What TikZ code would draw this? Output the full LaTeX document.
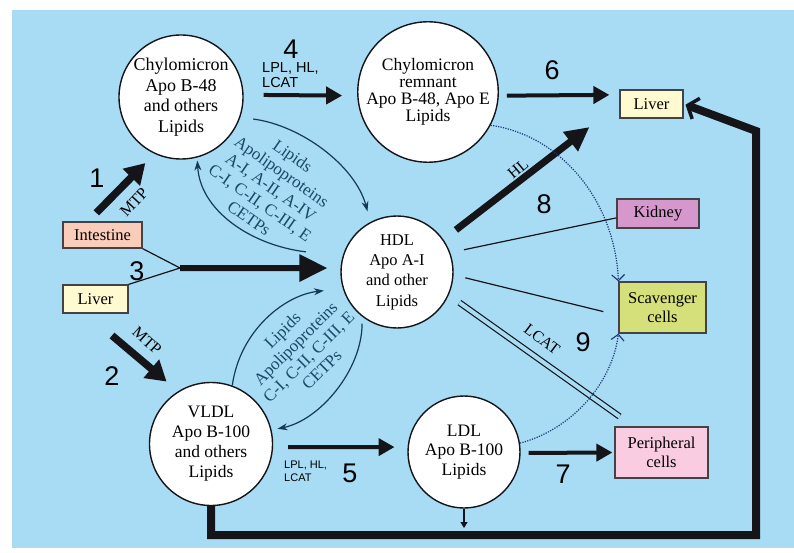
\documentclass[tikz,border=0pt]{standalone}
\usepackage{fontspec}
\setmainfont{Liberation Serif}
\newfontfamily\serifmain{Liberation Serif}
\newfontfamily\sansnum{Liberation Sans}
\usetikzlibrary{arrows.meta,calc}
\definecolor{bgblue}{RGB}{168,220,245}
\definecolor{intestinefill}{RGB}{249,205,186}
\definecolor{liverfill}{RGB}{255,250,208}
\definecolor{kidneyfill}{RGB}{214,152,204}
\definecolor{scavfill}{RGB}{214,224,122}
\definecolor{periphfill}{RGB}{249,204,226}
\definecolor{xtext}{RGB}{28,72,104}
\definecolor{dotcol}{RGB}{30,55,115}
\definecolor{ink}{RGB}{20,20,25}
\begin{document}
\begin{tikzpicture}[x=1pt,y=-1pt,
  circ/.style={circle, draw=ink, line width=1.4pt, fill=white, inner sep=0pt, align=center,
    font=\serifmain\fontsize{18}{20.5}\selectfont},
  box/.style={draw=ink!80, line width=1.2pt, inner sep=0pt, align=center,
    font=\serifmain\fontsize{16.5}{19}\selectfont},
  num/.style={font=\sansnum\fontsize{27}{27}\selectfont, inner sep=0pt},
  enz/.style={font=\sansnum\fontsize{14.5}{15}\selectfont, align=left, inner sep=0pt},
  rlbl/.style={font=\serifmain\fontsize{16}{18}\selectfont, inner sep=0pt},
  xlbl/.style={text=xtext, align=center, inner sep=0pt},
  fatarrow/.style={draw=ink, line width=7.5pt, -{Triangle[length=20pt,width=23pt]}},
  bigarrow/.style={draw=ink, line width=6pt, -{Triangle[length=28pt,width=26pt]}},
  hlarrow/.style={draw=ink, line width=7pt, -{Triangle[length=24pt,width=23pt]}},
  midarrow/.style={draw=ink, line width=4pt, -{Triangle[length=16pt,width=17pt]}},
  thinline/.style={draw=ink, line width=1.2pt},
  xchg/.style={draw=xtext!80!black, line width=1.2pt, -{Stealth[length=10pt,width=7pt]}},
  dotarc/.style={draw=dotcol, line width=1.2pt, dash pattern=on 1.2pt off 1.3pt,
    -{Straight Barb[length=6pt,width=13pt,line width=1.1pt]}},
  loopline/.style={draw=ink, line width=8pt, line join=miter,
    -{Straight Barb[length=9pt,width=22pt,line width=3.5pt]}}
]
\useasboundingbox (0,0) rectangle (794,553);
\fill[white] (0,0) rectangle (794,553);
\fill[bgblue] (12,10) rectangle (794,548);

% circles
\node[circ, minimum size=124pt] (chylo) at (181,97) {Chylomicron\\Apo B-48\\and others\\Lipids};
\node[circ, minimum size=138pt, font=\serifmain\fontsize{17.5}{17}\selectfont] (remnant) at (428,92) {Chylomicron\\remnant\\Apo B-48, Apo E\\Lipids};
\node[circ, minimum size=112pt, font=\serifmain\fontsize{16.5}{20.3}\selectfont] (hdl) at (397,272) {HDL\\Apo A-I\\and other\\Lipids};
\node[circ, minimum size=123pt, font=\serifmain\fontsize{17.5}{20}\selectfont] (vldl) at (211,444) {VLDL\\Apo B-100\\and others\\Lipids};
\node[circ, minimum size=112pt, font=\serifmain\fontsize{17.5}{19.5}\selectfont] (ldl) at (464,452) {LDL\\Apo B-100\\Lipids};

% boxes
\node[box, fill=intestinefill, minimum width=79pt, minimum height=26pt] (intestine) at (102.5,235) {Intestine};
\node[box, fill=liverfill, minimum width=65pt, minimum height=28pt] (liverL) at (95.5,299) {Liver};
\node[box, fill=liverfill, minimum width=63pt, minimum height=28pt] (liverR) at (651.5,104) {Liver};
\node[box, fill=kidneyfill, minimum width=82pt, minimum height=29pt] (kidney) at (658,213.5) {Kidney};
\node[box, fill=scavfill, minimum width=87pt, minimum height=51pt] (scav) at (662.5,307.5) {Scavenger\\cells};
\node[box, fill=periphfill, minimum width=93pt, minimum height=51pt] (periph) at (661.5,452.5) {Peripheral\\cells};

% coordinates
\coordinate (j3) at (180,268);
\coordinate (lb) at (211,535);
\coordinate (lc) at (756,131);
\coordinate (ldlout) at (464,528);

% arrow 1 and 2
\draw[fatarrow, shorten <=12pt, shorten >=13pt] (intestine.137) -- (chylo.245);
\draw[fatarrow, shorten <=34pt, shorten >=15pt] (liverL.237) -- (vldl.122);

% arrow 3
\draw[thinline] (intestine.south east) -- (j3);
\draw[thinline] (liverL.north east) -- (j3);
\draw[bigarrow, shorten >=13pt] (j3) -- (hdl.176);

% arrows 4,5,6,7
\draw[midarrow, shorten <=20pt, shorten >=15pt] (chylo.2) -- (remnant.183);
\draw[midarrow, shorten <=15pt, shorten >=13pt] (vldl.-3) -- (ldl.175);
\draw[midarrow, shorten <=8pt, shorten >=10pt] (remnant.-3) -- (liverR.164);
\draw[midarrow, shorten <=8pt, shorten >=2pt] (ldl.-1) -- (periph.west);

% HL arrow
\draw[hlarrow, shorten <=15.7pt, shorten >=37.8pt] (hdl.35.5) -- (liverR.west);

% thin lines from HDL
\draw[thinline, shorten <=14pt] (hdl.20.7) -- (kidney.186);
\draw[thinline, shorten <=12pt, shorten >=15.5pt] (hdl.-3.4) -- (scav.190.9);
\draw[line width=1.2pt, draw=ink, double=bgblue, double distance=4pt, shorten <=13pt, shorten >=17pt] (hdl.-24) -- (periph.137.5);

% dotted arcs
\draw[dotarc] (remnant.-28) .. controls (560,135) and (615,200) .. (scav.north west);
\draw[dotarc] (ldl.9) .. controls (570,430) and (612,385) .. (scav.south west);

% exchange curves
\draw[xchg, shorten <=13pt, shorten >=11pt] (chylo.-19) .. controls (300,125) and (355,165) .. (hdl.118.5);
\draw[xchg, shorten <=37pt, shorten >=3pt] (hdl.164.5) .. controls (250,245) and (200,210) .. (chylo.-75.7);
\draw[xchg, shorten >=19pt] (vldl.70.4) .. controls (240,330) and (285,295) .. (hdl.197.7);
\draw[xchg, shorten <=7pt, shorten >=6pt] (hdl.232) .. controls (362,370) and (320,420) .. (vldl.13.6);

% big loop
\draw[loopline, shorten >=2pt] (vldl.south) -- (lb) -| (lc) -- (liverR.east);

% LDL small arrow
\draw[draw=ink, line width=1.2pt, -{Triangle[length=6pt,width=7pt]}] (ldl.south) -- (ldlout);

% numbers
\node[num] (n1) at (97,178) {1};
\node[num] (n2) at (112,376) {2};
\node[num] (n3) at (137,271) {3};
\node[num] (n4) at (291,49) {4};
\node[num] (n5) at (350,473) {5};
\node[num] (n6) at (552,70) {6};
\node[num] (n7) at (563,474) {7};
\node[num] (n8) at (544,204) {8};
\node[num] (n9) at (583,342) {9};

% enzyme labels
\node[enz, anchor=west] (e4) at (262,75.5) {LPL, HL,\\LCAT};
\node[enz, anchor=west, font=\sansnum\fontsize{11}{13}\selectfont] (e5) at (284,471.5) {LPL, HL,\\LCAT};

% rotated labels
\node[rlbl, rotate=47] (mtp1) at (134,202) {MTP};
\node[rlbl, rotate=-42] (mtp2) at (147,341) {MTP};
\node[rlbl, rotate=40] (hl) at (518,169) {HL};
\node[rlbl, rotate=-37] (lcat) at (542,339) {LCAT};

\node[xlbl, rotate=-35, font=\serifmain\fontsize{17}{19}\selectfont] (xup) at (271,187)
  {Lipids\\Apolipoproteins\\A-I, A-II, A-IV\\C-I, C-II, C-III, E\\CETPs};
\node[xlbl, rotate=45, font=\serifmain\fontsize{17}{18.5}\selectfont] (xlow) at (302,350)
  {Lipids\\Apolipoproteins\\C-I, C-II, C-III, E\\CETPs};
\end{tikzpicture}
\end{document}
